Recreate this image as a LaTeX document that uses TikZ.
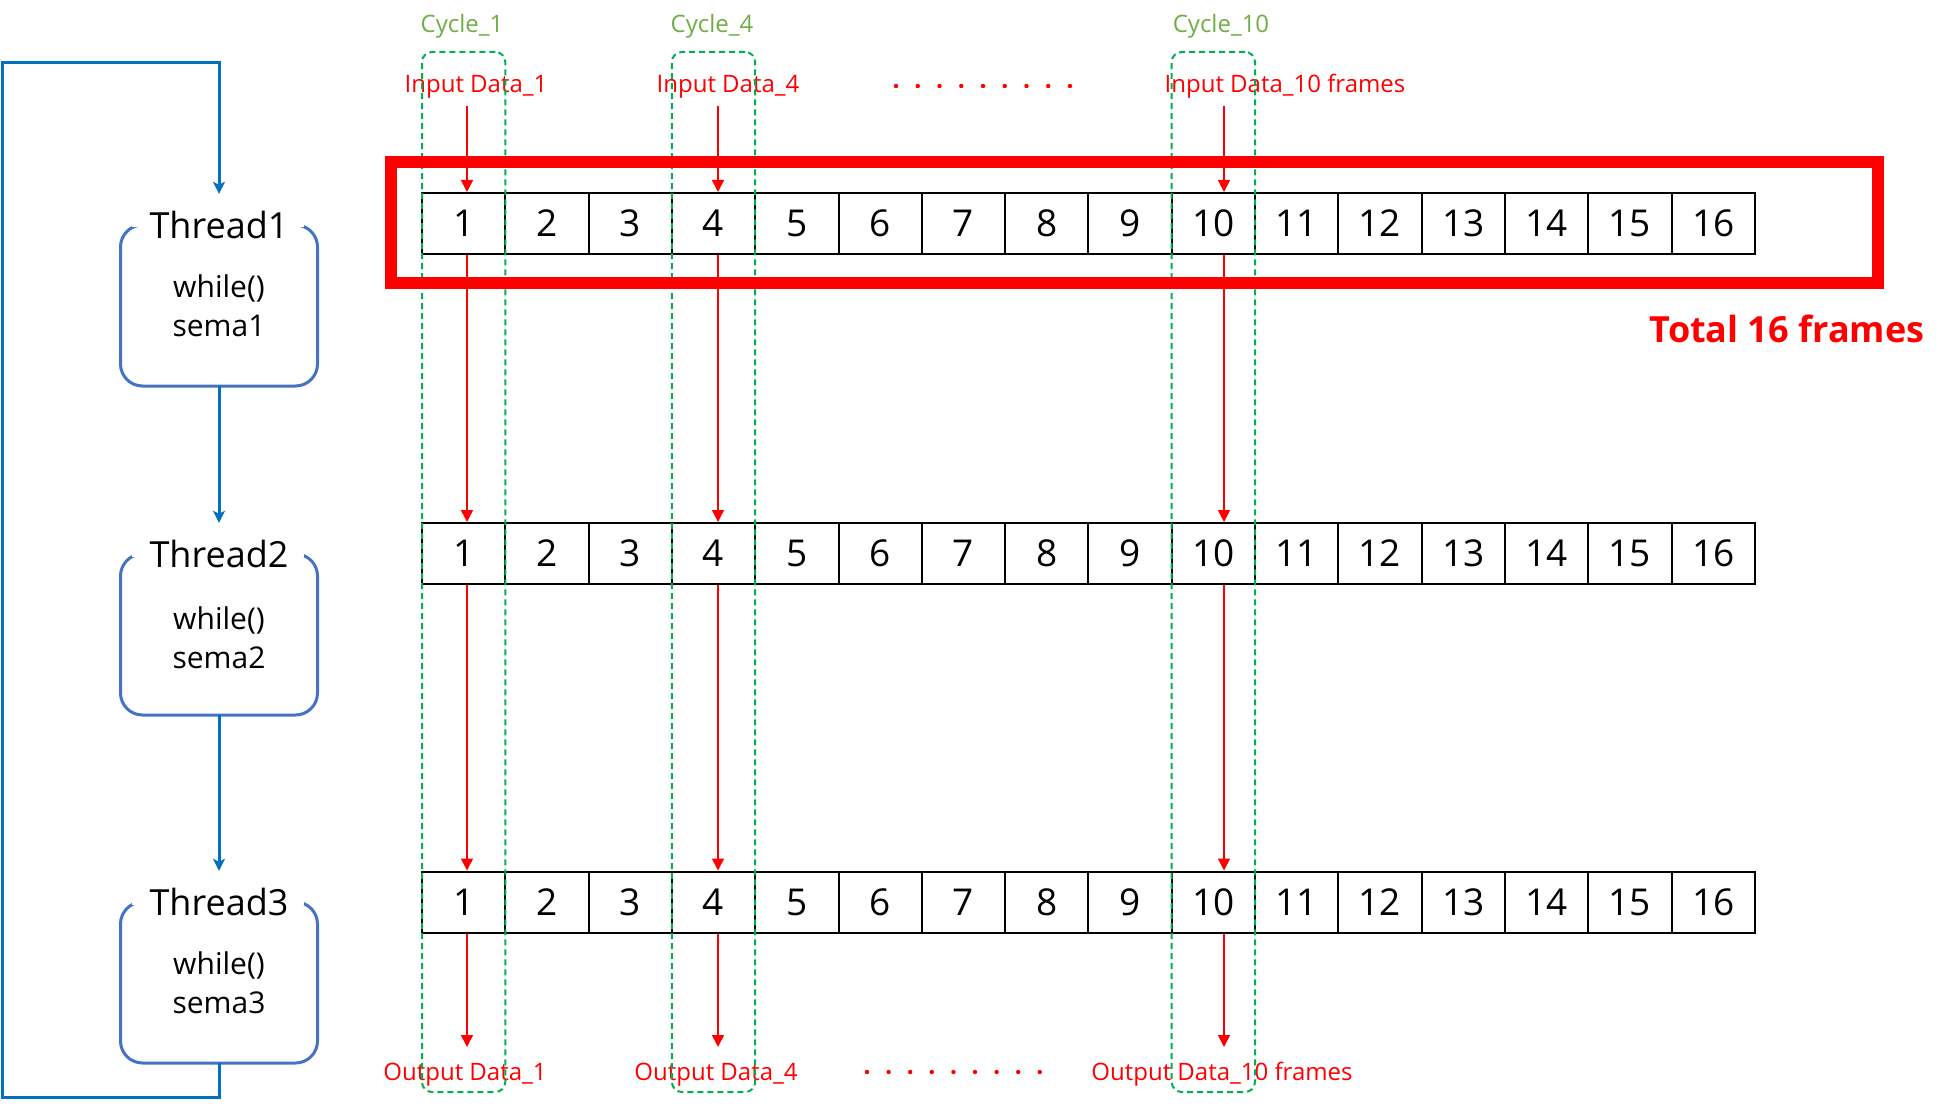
\documentclass[tikz,border=0pt]{standalone}
\usepackage{fontspec}
\setmainfont{Open Sans}
\usetikzlibrary{arrows.meta}
\definecolor{boxblue}{HTML}{4472C4}
\definecolor{lineblue}{HTML}{0070C0}
\definecolor{dashgreen}{HTML}{00B050}
\definecolor{cyclegreen}{HTML}{70AD47}
\definecolor{myred}{HTML}{FF0000}
\begin{document}
\begin{tikzpicture}[x=1pt,y=-1pt,
  cell/.style={draw=black, line width=2pt, minimum width=83.3pt, minimum height=61pt, inner sep=0pt, font=\fontsize{37}{40}\selectfont},
  tbox/.style={draw=boxblue, line width=3pt, rounded corners=22pt, minimum width=197pt, minimum height=161pt, inner sep=0pt, outer sep=0pt},
  ttitle/.style={inner sep=0pt, minimum height=62pt, font=\fontsize{36}{40}\selectfont},
  tbody/.style={align=center, inner sep=0pt, font=\fontsize{30}{39}\selectfont},
  cycbox/.style={draw=dashgreen, dash pattern=on 6pt off 4pt, line width=2pt, rounded corners=10pt, minimum width=83.3pt, minimum height=1040pt, inner sep=0pt},
  cyclabel/.style={text=cyclegreen, font=\fontsize{24}{28}\selectfont, anchor=base, inner sep=0pt},
  rlabel/.style={text=myred, font=\fontsize{24}{28}\selectfont, anchor=base, inner sep=0pt},
  rarrow/.style={draw=myred, line width=1.5pt, -{Triangle[length=12pt,width=12pt]}},
  barrow/.style={draw=lineblue, line width=3pt, -{Stealth[length=12pt,width=12pt,inset=3pt]}},
  bline/.style={draw=lineblue, line width=3pt},
  rdot/.style={fill=myred},
]
\useasboundingbox (0,0) rectangle (1951,1115);

% thread boxes
\foreach \k/\yc/\yt/\yb/\a/\b in {1/305.5/225/306/while()/sema1, 2/634.5/554/638/while()/sema2, 3/982.5/902/983/while()/sema3}{
  \node[tbox] (b\k) at (219,\yc) {};
  \fill[white] ([xshift=11pt,yshift=3pt]b\k.north west) rectangle ([xshift=-14pt,yshift=-2.5pt]b\k.north east);
  \node[ttitle] (t\k) at (219,\yt) {Thread\k};
  \node[tbody] (w\k) at (219,\yb) {\a\\\b};
}

% blue connectors
\coordinate (lb) at (2,1097);
\coordinate (lt) at (2,63);
\draw[barrow] (b1.south) -- (t2.north);
\draw[barrow] (b2.south) -- (t3.north);
\draw[barrow] (b3.south) -- (b3.south |- lb) -- (lb) -- (lt) -- (lt -| t1.north) -- (t1.north);

% labels
\node[cyclabel] (cy1) at (462,33) {Cycle\_1};
\node[cyclabel] (cy4) at (712,33) {Cycle\_4};
\node[cyclabel] (cy10) at (1221,33) {Cycle\_10};
\node[rlabel] (in1) at (476,93) {Input Data\_1};
\node[rlabel] (in4) at (728,93) {Input Data\_4};
\node[rlabel] (in10) at (1285,93) {Input Data\_10 frames};
\node[rlabel] (out1) at (465,1080) {Output Data\_1};
\node[rlabel] (out4) at (716,1080) {Output Data\_4};
\node[rlabel] (out10) at (1222,1080) {Output Data\_10 frames};
\node[font=\bfseries\fontsize{36}{40}\selectfont, text=myred, anchor=base, inner sep=0pt] (total) at (1787,342) {Total 16 frames};

\foreach \i in {0,...,8}{
  \fill[rdot] ({896+\i*21.75},86) circle (2.2pt);
  \fill[rdot] ({867+\i*21.6},1072) circle (2.2pt);
}

% cells
\foreach \r/\y in {1/223.5, 2/553.5, 3/902}{
  \foreach \i in {1,...,16}{
    \node[cell] (r\r-\i) at ({422+(\i-0.5)*83.3},\y) {\i};
  }
}

% cycle boxes
\node[cycbox] (g1) at (r1-1 |- 0,572) {};
\node[cycbox] (g4) at (r1-4 |- 0,572) {};
\node[cycbox] (g10) at (r1-10 |- 0,572) {};

% red frame
\node[draw=myred, line width=12pt, minimum width=1487pt, minimum height=121pt, inner sep=0pt] (frame) at (1134.5,222.5) {};

% red arrows
\foreach \c/\x in {1/467, 4/718, 10/1224}{
  \coordinate (s\c) at (\x,106);
  \coordinate (e\c) at (\x,1047);
  \draw[rarrow] (s\c) -- (s\c |- r1-\c.north);
  \draw[rarrow] (s\c |- r1-\c.south) -- (s\c |- r2-\c.north);
  \draw[rarrow] (s\c |- r2-\c.south) -- (s\c |- r3-\c.north);
  \draw[rarrow] (s\c |- r3-\c.south) -- (e\c);
}
\end{tikzpicture}
\end{document}
